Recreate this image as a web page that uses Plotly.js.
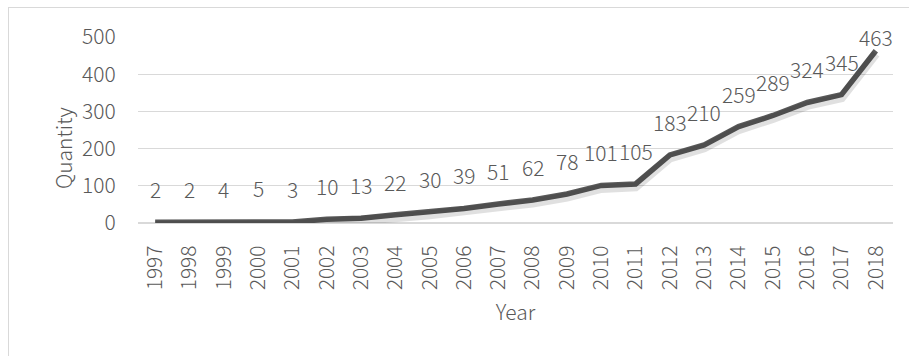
<!DOCTYPE html>
<html>
<head>
<meta charset="utf-8">
<script src="https://cdn.plot.ly/plotly-3.0.1.min.js"></script>
<style>
html,body{margin:0;padding:0;background:#fff;}
#wrap{position:relative;width:909px;height:356px;overflow:hidden;}
#chart{position:absolute;left:0;top:0;width:909px;height:356px;}
#frame{position:absolute;left:8px;top:7px;width:920px;height:400px;border:1px solid #d9d9d9;pointer-events:none;}
</style>
</head>
<body>
<div id="wrap"><div id="chart"></div><div id="frame"></div></div>
<script>
var years = [1997,1998,1999,2000,2001,2002,2003,2004,2005,2006,2007,2008,2009,2010,2011,2012,2013,2014,2015,2016,2017,2018];
var quantity = [2,2,4,5,3,10,13,22,30,39,51,62,78,101,105,183,210,259,289,324,345,463];
var yTicks = [0,100,200,300,400,500];

var FONT = "Noto Sans CJK SC, Noto Sans, sans-serif";
var W = 300;
var TXT = "#595959";
var FS = 21;
var plotH = 356 - 37 - 133;
var yMax = 500;
var shadowShift = 3 * yMax / plotH;

var annotations = years.map(function(y, i){
  var v = quantity[i];
  var shift = Math.min(33, (yMax - v) * plotH / yMax);
  return {x: y, y: v, xref: 'x', yref: 'y', text: String(v), showarrow: false,
          yshift: shift, font: {family: FONT, size: FS, color: TXT, weight: W}};
});
annotations.push({
  text: 'Quantity', xref: 'paper', yref: 'paper', x: -0.1, y: 0.4,
  xanchor: 'center', yanchor: 'middle', textangle: -90, showarrow: false,
  font: {family: FONT, size: FS, color: TXT, weight: W}
});

var shadow = {
  x: years, y: quantity, type: 'scatter', mode: 'lines', yaxis: 'y2',
  line: {color: 'rgba(0,0,0,0.12)', width: 9},
  hoverinfo: 'skip'
};
var trace = {
  x: years, y: quantity, type: 'scatter', mode: 'lines',
  line: {color: '#595959', width: 5.5},
  hoverinfo: 'x+y'
};

var layout = {
  width: 909, height: 356,
  margin: {l: 138, r: 16, t: 37, b: 133},
  paper_bgcolor: '#fff', plot_bgcolor: '#fff',
  showlegend: false,
  font: {family: FONT, size: FS, color: TXT, weight: W},
  xaxis: {
    type: 'linear', range: [years[0] - 0.5, years[years.length - 1] + 0.5],
    tickvals: years, ticktext: years.map(String),
    tickangle: -90, showgrid: false, showline: false,
    zeroline: false, ticks: 'outside', ticklen: 13, tickcolor: 'rgba(0,0,0,0)',
    tickfont: {family: FONT, size: FS, color: TXT, weight: W},
    title: {text: 'Year', font: {family: FONT, size: FS, color: TXT, weight: W}, standoff: 15}
  },
  yaxis: {
    range: [0, yMax], tickvals: yTicks, ticktext: yTicks.map(String),
    showgrid: true, gridcolor: '#d9d9d9', gridwidth: 1,
    zeroline: true, zerolinecolor: '#d9d9d9', zerolinewidth: 1.5,
    showline: false, ticks: 'outside', ticklen: 17, tickcolor: 'rgba(0,0,0,0)',
    tickfont: {family: FONT, size: FS, color: TXT, weight: W}
  },
  yaxis2: {
    overlaying: 'y', range: [shadowShift, yMax + shadowShift], visible: false
  },
  annotations: annotations
};

Plotly.newPlot('chart', [shadow, trace], layout, {displayModeBar: false, staticPlot: true});
</script>
</body>
</html>
